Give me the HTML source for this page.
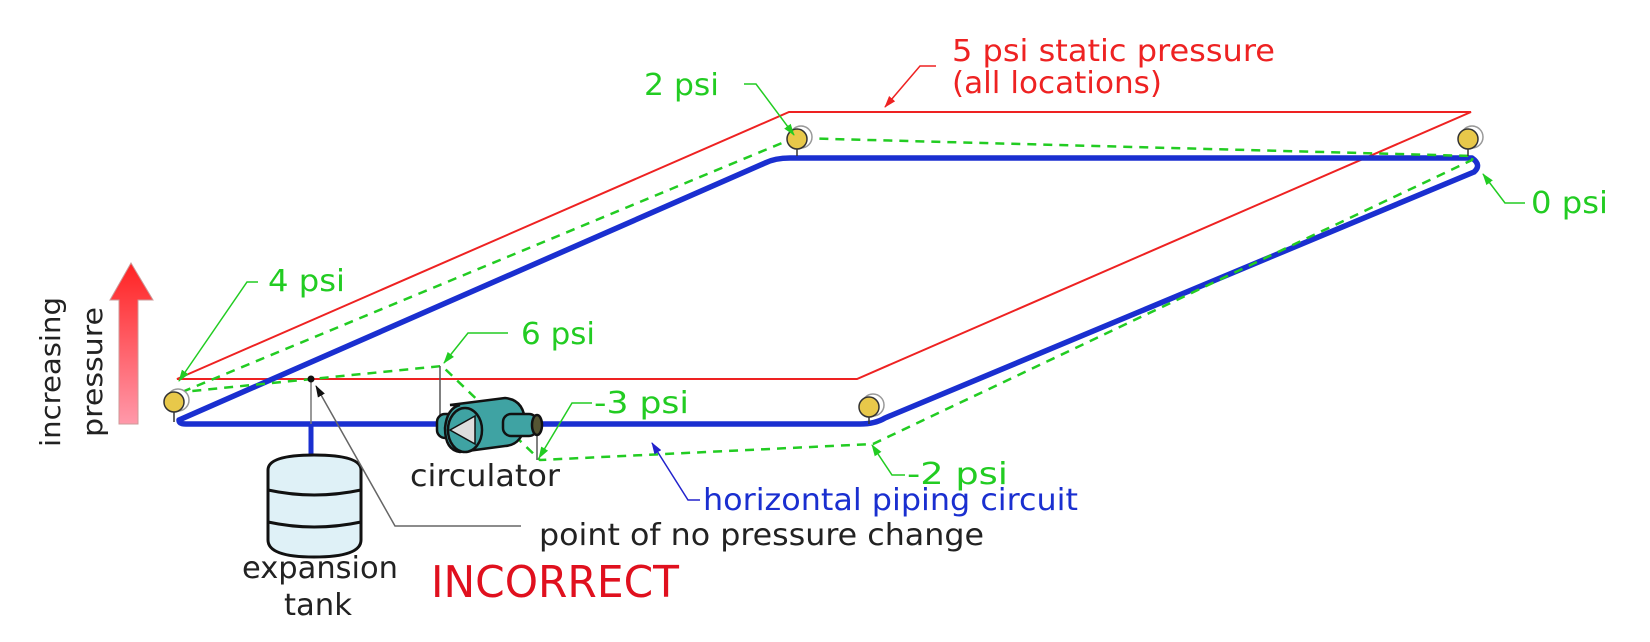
<!DOCTYPE html>
<html><head><meta charset="utf-8"><style>
body{margin:0;background:#fff}
svg{display:block}
text{font-family:"DejaVu Sans","Liberation Sans",sans-serif}
</style></head><body>
<svg width="1650" height="642" viewBox="0 0 1650 642" xmlns="http://www.w3.org/2000/svg" font-size="30">
<defs>
<linearGradient id="ag" x1="0" y1="0" x2="0" y2="1"><stop offset="0" stop-color="#f22"/><stop offset="1" stop-color="#f9a"/></linearGradient>
<marker id="gm" markerWidth="12" markerHeight="10" refX="11" refY="5" orient="auto" markerUnits="userSpaceOnUse"><path d="M0,1 L12,5 L0,9z" fill="#2c2"/></marker>
<marker id="rm" markerWidth="12" markerHeight="10" refX="11" refY="5" orient="auto" markerUnits="userSpaceOnUse"><path d="M0,1 L12,5 L0,9z" fill="#e22"/></marker>
<marker id="bm" markerWidth="12" markerHeight="10" refX="11" refY="5" orient="auto" markerUnits="userSpaceOnUse"><path d="M0,1 L12,5 L0,9z" fill="#22c"/></marker>
<marker id="km" markerWidth="12" markerHeight="10" refX="11" refY="5" orient="auto" markerUnits="userSpaceOnUse"><path d="M0,1 L12,5 L0,9z" fill="#111"/></marker>
</defs>
<path d="M177,379 L789,112 L1471,112 L857,379 Z" fill="none" stroke="#e22" stroke-width="2"/>
<path d="M179,420 L765,163 Q775,158 790,158 L1472,158 Q1482,165 1474,172 L885,418 Q875,424 860,424 L186,424 Q179,424 179,420 Z" fill="none" stroke="#1a2fd0" stroke-width="5.5" stroke-linejoin="round"/>
<line x1="311" y1="424" x2="311" y2="460" stroke="#1a2fd0" stroke-width="5"/>
<line x1="311" y1="380" x2="311" y2="424" stroke="#777" stroke-width="1.5"/>
<g fill="none" stroke="#2c2" stroke-width="2.5" stroke-dasharray="9,7">
<path d="M182,392 L794,138 L1473,156 L1472,160 L873,444 L540,460 L442,366 L182,392"/>
</g>
<line x1="440" y1="366" x2="440" y2="420" stroke="#555" stroke-width="1.5"/>
<line x1="537" y1="425" x2="537" y2="460" stroke="#555" stroke-width="1.5"/>
<g stroke="#111" stroke-width="3" fill="#dff1f7">
<path d="M268,470 Q268,455 314,455 Q361,455 361,470 L361,540 Q361,557 314,557 Q268,557 268,540 Z"/>
<path d="M268,490 Q314,500 361,490" fill="none"/>
<path d="M268,522 Q314,532 361,522" fill="none"/>
</g>
<circle cx="311" cy="379" r="3.5" fill="#111"/>
<polyline points="521,526 395,526 316,386" fill="none" stroke="#666" stroke-width="1.5" marker-end="url(#km)"/>
<g stroke="#111" stroke-width="2.5">
<rect x="437" y="414" width="20" height="24" rx="8" fill="#3fa3a3"/>
<path d="M450,405 L505,398 Q525,400 525,424 Q522,445 505,446 L460,452 Q445,450 445,428 Q447,408 460,405 Z" fill="#3fa3a3"/>
<ellipse cx="465" cy="430" rx="17" ry="22" fill="#3fa3a3"/>
<path d="M450,430 L475,416 L475,444 Z" fill="#ddd" stroke-width="1.5"/>
<rect x="503" y="414" width="34" height="22" rx="8" fill="#3fa3a3"/>
<ellipse cx="537" cy="425" rx="5" ry="10" fill="#553"/>
</g>
<g stroke="#333" stroke-width="1.5">
<line x1="174" y1="410" x2="174" y2="422"/><circle cx="178" cy="400" r="11" fill="#fff" stroke="#999"/><circle cx="174" cy="402" r="10" fill="#e8c84a"/>
<line x1="797" y1="147" x2="797" y2="156"/><circle cx="801" cy="137" r="11" fill="#fff" stroke="#999"/><circle cx="797" cy="139" r="10" fill="#e8c84a"/>
<line x1="1468" y1="147" x2="1468" y2="156"/><circle cx="1472" cy="137" r="11" fill="#fff" stroke="#999"/><circle cx="1468" cy="139" r="10" fill="#e8c84a"/>
<line x1="869" y1="415" x2="869" y2="424"/><circle cx="873" cy="405" r="11" fill="#fff" stroke="#999"/><circle cx="869" cy="407" r="10" fill="#e8c84a"/>
</g>
<path d="M119,300 L110,300 L131,263 L153,300 L138,300 L138,424 L119,424 Z" fill="url(#ag)" stroke="#c99" stroke-width="1"/>
<text transform="translate(60,372) rotate(-90)" text-anchor="middle" style="font-size:28px" fill="#222" textLength="150" lengthAdjust="spacingAndGlyphs">increasing</text>
<text transform="translate(102,372) rotate(-90)" text-anchor="middle" style="font-size:28px" fill="#222" textLength="130" lengthAdjust="spacingAndGlyphs">pressure</text>
<g fill="none" stroke="#2c2" stroke-width="1.5">
<polyline points="258,282 247,282 179,381" marker-end="url(#gm)"/>
<polyline points="744,84 756,84 794,135" marker-end="url(#gm)"/>
<polyline points="1525,203 1505,203 1483,174" marker-end="url(#gm)"/>
<polyline points="508,333 468,333 444,363" marker-end="url(#gm)"/>
<polyline points="592,403 572,403 539,458" marker-end="url(#gm)"/>
<polyline points="905,475 892,475 872,445" marker-end="url(#gm)"/>
</g>
<polyline points="936,66 920,66 885,107" fill="none" stroke="#e22" stroke-width="1.5" marker-end="url(#rm)"/>
<polyline points="700,500 688,500 652,443" fill="none" stroke="#22c" stroke-width="1.5" marker-end="url(#bm)"/>
<g fill="#2c2">
<text x="268" y="291" textLength="77" lengthAdjust="spacingAndGlyphs">4 psi</text>
<text x="644" y="95" textLength="75" lengthAdjust="spacingAndGlyphs">2 psi</text>
<text x="1531" y="213" textLength="77" lengthAdjust="spacingAndGlyphs">0 psi</text>
<text x="521" y="344" textLength="74" lengthAdjust="spacingAndGlyphs">6 psi</text>
<text x="594" y="413" textLength="95" lengthAdjust="spacingAndGlyphs">-3 psi</text>
<text x="907" y="484" textLength="101" lengthAdjust="spacingAndGlyphs">-2 psi</text>
</g>
<text x="952" y="61" fill="#e22" textLength="323" lengthAdjust="spacingAndGlyphs">5 psi static pressure</text>
<text x="952" y="93" fill="#e22" textLength="210" lengthAdjust="spacingAndGlyphs">(all locations)</text>
<text x="703" y="510" fill="#1a2fd0" textLength="375" lengthAdjust="spacingAndGlyphs">horizontal piping circuit</text>
<text x="539" y="545" fill="#222" textLength="445" lengthAdjust="spacingAndGlyphs">point of no pressure change</text>
<text x="410" y="486" fill="#222" textLength="150" lengthAdjust="spacingAndGlyphs">circulator</text>
<text x="242" y="578" fill="#222" textLength="156" lengthAdjust="spacingAndGlyphs">expansion</text>
<text x="284" y="615" fill="#222" textLength="68" lengthAdjust="spacingAndGlyphs">tank</text>
<text x="431" y="597" style="font-size:44px" fill="#e0101e" textLength="248" lengthAdjust="spacingAndGlyphs">INCORRECT</text>
</svg>
</body></html>
